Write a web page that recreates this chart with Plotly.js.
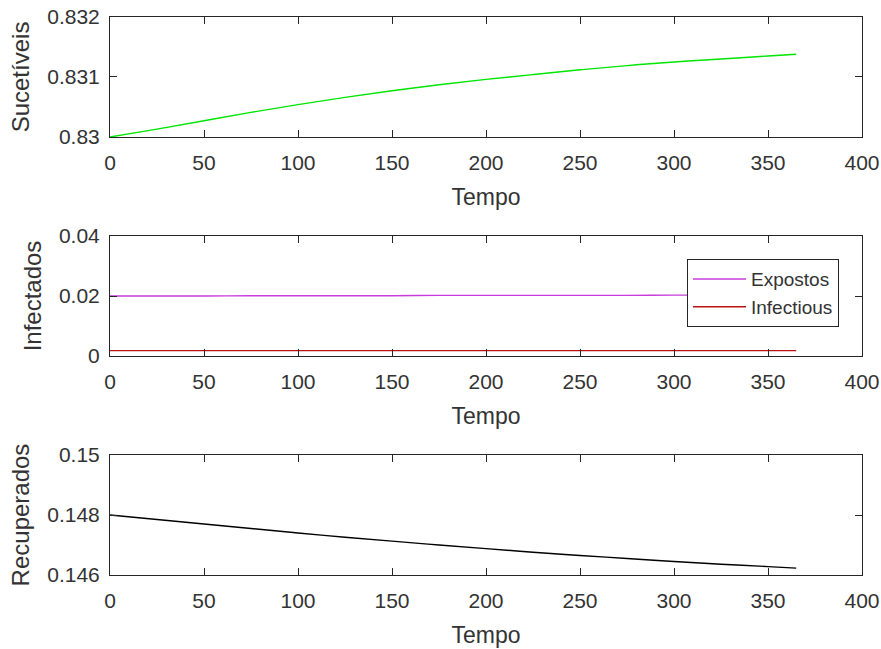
<!DOCTYPE html>
<html>
<head>
<meta charset="utf-8">
<script src="https://cdn.plot.ly/plotly-3.0.1.min.js"></script>
<style>html,body{margin:0;padding:0;background:#fff;}#chart{width:881px;height:649px;}</style>
</head>
<body>
<div id="chart"></div>
<script>
const tempo = [0, 25, 50, 75, 100, 125, 150, 175, 200, 225, 250, 275, 300, 325, 350, 365];
const sucetiveis = [0.83000, 0.83013, 0.83027, 0.83041, 0.83054, 0.83066, 0.83077, 0.83087, 0.83096, 0.83104, 0.83112, 0.83119, 0.83125, 0.83130, 0.83135, 0.83138];
const expostos = [0.0200, 0.0200, 0.0200, 0.0201, 0.0201, 0.0201, 0.0201, 0.0202, 0.0202, 0.0202, 0.0202, 0.0202, 0.0203, 0.0203, 0.0203, 0.0203];
const infectious = [0.0018, 0.0018, 0.0018, 0.0018, 0.0018, 0.0018, 0.0018, 0.0018, 0.0018, 0.0018, 0.0018, 0.0018, 0.0018, 0.0018, 0.0018, 0.0018];
const recuperados = [0.14800, 0.14785, 0.14770, 0.14755, 0.14740, 0.14726, 0.14713, 0.14700, 0.14688, 0.14676, 0.14665, 0.14655, 0.14645, 0.14636, 0.14628, 0.14623];

const xTicks = [0, 50, 100, 150, 200, 250, 300, 350, 400];
const y1Ticks = [0.83, 0.831, 0.832];
const y1Labels = ['0.83', '0.831', '0.832'];
const y2Ticks = [0, 0.02, 0.04];
const y2Labels = ['0', '0.02', '0.04'];
const y3Ticks = [0.146, 0.148, 0.15];
const y3Labels = ['0.146', '0.148', '0.15'];

const FONT = 'Liberation Sans, Arial, sans-serif';
const TXT = '#333333';
const AXC = '#262626';

const traces = [
  {x: tempo, y: sucetiveis, xaxis: 'x', yaxis: 'y', mode: 'lines', line: {color: '#00e600', width: 1.4, shape: 'spline'}, showlegend: false},
  {x: tempo, y: expostos, xaxis: 'x2', yaxis: 'y2', mode: 'lines', name: 'Expostos', line: {color: '#c83cdc', width: 1.4, shape: 'spline'}},
  {x: tempo, y: infectious, xaxis: 'x2', yaxis: 'y2', mode: 'lines', name: 'Infectious', line: {color: '#b81414', width: 1.4, shape: 'spline'}},
  {x: tempo, y: recuperados, xaxis: 'x3', yaxis: 'y3', mode: 'lines', line: {color: '#000000', width: 1.4, shape: 'spline'}, showlegend: false}
];

function xax(anchor) {
  return {
    anchor: anchor, domain: [0, 1], range: [0, 400],
    tickmode: 'array', tickvals: xTicks, ticktext: xTicks.map(String),
    ticks: 'inside', ticklen: 7, tickwidth: 1, tickcolor: AXC,
    showline: true, linecolor: AXC, linewidth: 1, mirror: 'ticks',
    showgrid: false, zeroline: false, ticklabelstandoff: 7,
    tickfont: {family: FONT, size: 21, color: TXT},
    title: {text: 'Tempo', font: {family: FONT, size: 23, color: TXT}, standoff: 15}
  };
}
function yax(anchor, dom, rng, tv, tt, title) {
  return {
    anchor: anchor, domain: dom, range: rng,
    tickmode: 'array', tickvals: tv, ticktext: tt,
    ticks: 'inside', ticklen: 7, tickwidth: 1, tickcolor: AXC,
    showline: true, linecolor: AXC, linewidth: 1, mirror: 'ticks',
    showgrid: false, zeroline: false, ticklabelstandoff: 5,
    tickfont: {family: FONT, size: 21, color: TXT},
    title: {text: title, font: {family: FONT, size: 24, color: TXT}, standoff: 10}
  };
}

const layout = {
  width: 881, height: 649,
  margin: {l: 110, r: 19, t: 17, b: 74},
  paper_bgcolor: '#ffffff', plot_bgcolor: '#ffffff',
  font: {family: FONT, color: TXT},
  xaxis: xax('y'),
  yaxis: yax('x', [0.785, 1], [0.83, 0.832], y1Ticks, y1Labels, 'Sucetíveis'),
  xaxis2: xax('y2'),
  yaxis2: yax('x2', [0.3925, 0.6075], [0, 0.04], y2Ticks, y2Labels, 'Infectados'),
  xaxis3: xax('y3'),
  yaxis3: yax('x3', [0, 0.215], [0.146, 0.15], y3Ticks, y3Labels, 'Recuperados'),
  showlegend: true,
  legend: {
    x: 0.9694, xanchor: 'right', y: 0.566, yanchor: 'top',
    bgcolor: '#ffffff', bordercolor: AXC, borderwidth: 1,
    font: {family: FONT, size: 19, color: TXT},
    tracegroupgap: 0, itemwidth: 53
  }
};

Plotly.newPlot('chart', traces, layout, {displayModeBar: false, staticPlot: true});
</script>
</body>
</html>
